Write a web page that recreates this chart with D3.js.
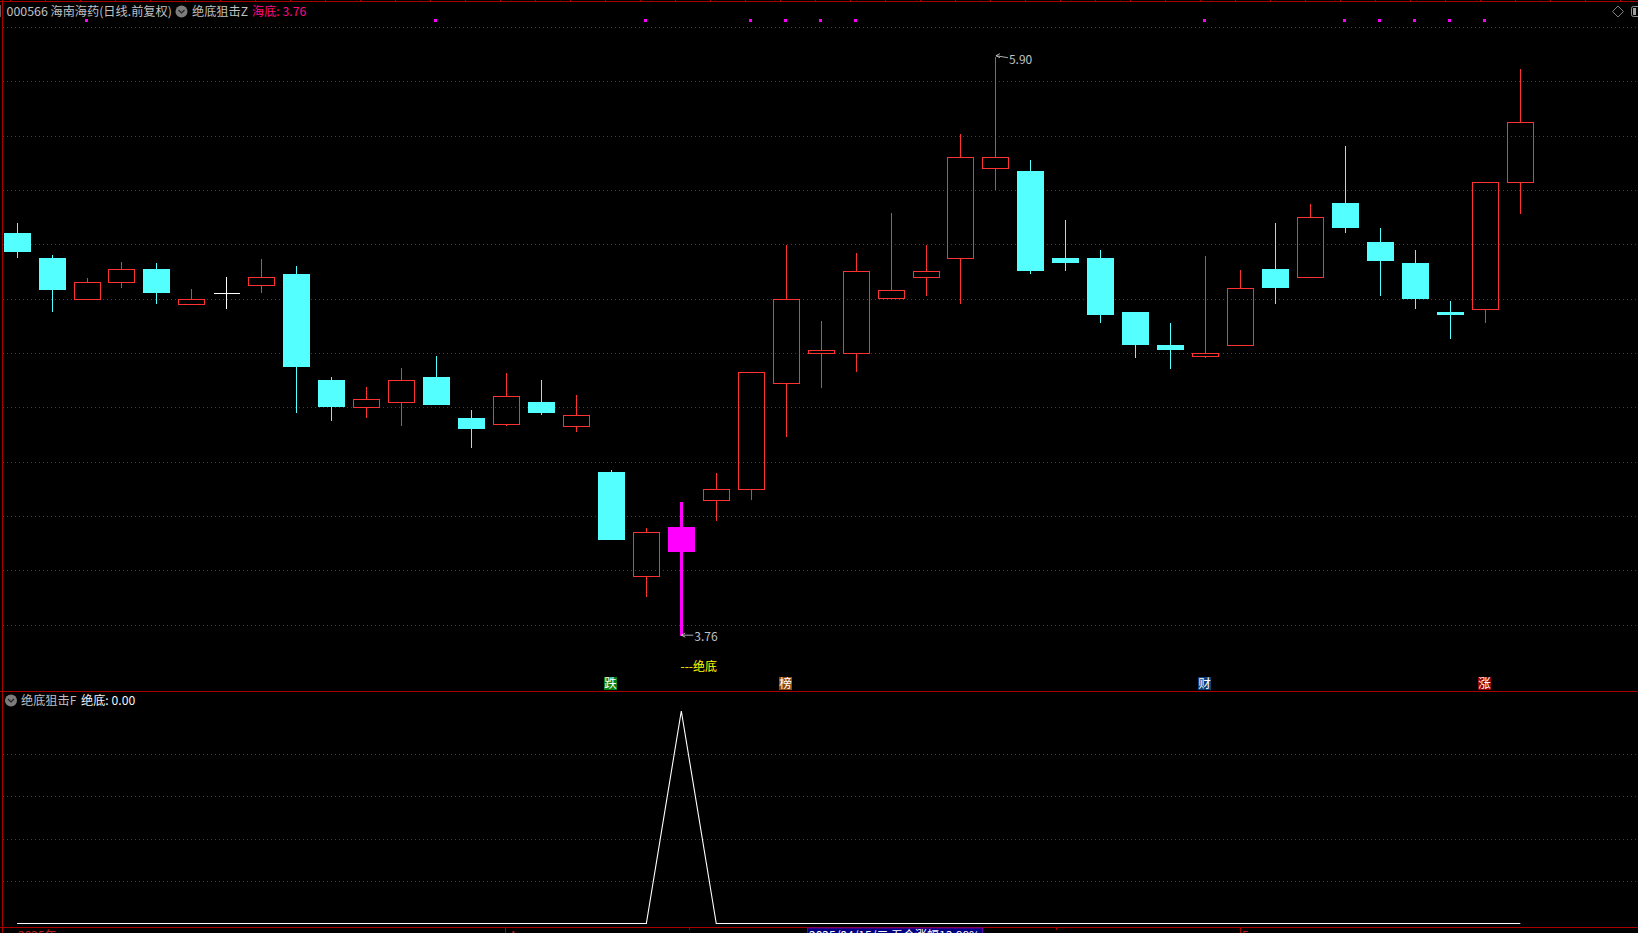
<!DOCTYPE html>
<html lang="zh">
<head>
<meta charset="utf-8">
<title>000566 海南海药</title>
<script src="https://cdn.jsdelivr.net/npm/d3@7/dist/d3.min.js"></script>
<style>
html,body{margin:0;padding:0;background:#000;overflow:hidden}
svg{display:block}
text{font-family:"Noto Sans CJK SC","Noto Sans",sans-serif}
</style>
</head>
<body>
<svg id="chart" width="1638" height="933"></svg>
<script>
// Price series
const opens  = [5.248,5.156,5.002,5.065,5.115,4.983,5.026,5.054,5.097,4.705,4.603,4.621,4.716,4.565,4.540,4.624,4.532,4.365,3.978,4.162,4.259,4.300,4.691,4.802,4.802,5.003,5.083,5.153,5.486,5.478,5.156,5.156,4.956,4.834,4.791,4.832,5.115,5.083,5.359,5.215,5.138,4.956,4.965,5.434];
const closes = [5.178,5.038,5.066,5.114,5.027,5.003,5.026,5.085,4.753,4.605,4.634,4.704,4.613,4.524,4.645,4.583,4.575,4.114,4.142,4.069,4.301,4.733,5.003,4.815,5.107,5.037,5.107,5.528,5.528,5.108,5.138,4.945,4.834,4.816,4.804,5.044,5.045,5.306,5.267,5.145,5.004,4.945,5.436,5.658];
const highs  = [5.285,5.167,5.082,5.141,5.138,5.041,5.086,5.152,5.126,4.716,4.679,4.749,4.794,4.594,4.731,4.705,4.650,4.372,4.158,4.254,4.361,4.733,5.204,4.923,5.174,5.322,5.204,5.614,5.900,5.518,5.296,5.186,4.956,4.916,5.163,5.112,5.285,5.356,5.570,5.267,5.186,4.997,5.436,5.855];
const lows   = [5.157,4.958,5.002,5.045,4.986,4.983,4.968,5.027,4.583,4.554,4.565,4.535,4.613,4.454,4.535,4.576,4.513,4.114,3.903,3.760,4.184,4.262,4.494,4.675,4.735,5.037,5.015,4.986,5.407,5.097,5.108,4.916,4.786,4.746,4.786,4.832,4.986,5.083,5.248,5.015,4.968,4.857,4.916,5.319];
const signalValues = [0,0,0,0,0,0,0,0,0,0,0,0,0,0,0,0,0,0,0,1,0,0,0,0,0,0,0,0,0,0,0,0,0,0,0,0,0,0,0,0,0,0,0,0];
const priceGrid  = [6.010,5.810,5.606,5.408,5.207,5.003,4.805,4.604,4.402,4.202,4.002,3.800];
const signalGrid = [0.8,0.6,0.4,0.2];
const markedBars = [2,12,18,21,22,23,24,34,38,39,40,41,42];
const signalBar = 19;
const tags = [
  {bar:17,label:"跌",color:"#08800f"},
  {bar:22,label:"榜",color:"#8a4a14"},
  {bar:34,label:"财",color:"#0f3f78"},
  {bar:42,label:"涨",color:"#8c0505"}
];

const GRID="#d00000", BORDER="#a80000", RED="#ff3232", CYAN="#54ffff", MAG="#ff00ff", GREY="#c0c0c0";
const svg=d3.select("#chart");
svg.append("rect").attr("width",1638).attr("height",933).attr("fill","#000");

const x=d3.scaleLinear().domain([0,43]).range([17.1,1520.3]);
const y=d3.scaleLinear().domain([3.76,5.90]).range([635.7,56.7]);
const y2=d3.scaleLinear().domain([0,1]).range([923.5,711]);
const px=v=>Math.floor(x(v))+0.5;
const ry=v=>Math.round(y(v));

// grids
function grid(vals,scale){
  svg.append("g").selectAll("line").data(vals).join("line")
    .attr("x1",3).attr("x2",1638)
    .attr("y1",d=>Math.round(scale(d))+0.5).attr("y2",d=>Math.round(scale(d))+0.5)
    .attr("stroke",GRID).attr("stroke-dasharray","1,3").attr("shape-rendering","crispEdges");
}
grid(priceGrid,y);grid(signalGrid,y2);

// frame
const frame=svg.append("g").attr("stroke",BORDER).attr("shape-rendering","crispEdges");
frame.append("line").attr("x1",0).attr("x2",1638).attr("y1",1.5).attr("y2",1.5);
frame.append("line").attr("x1",0).attr("x2",1638).attr("y1",691.5).attr("y2",691.5);
frame.append("line").attr("x1",0).attr("x2",1638).attr("y1",927.5).attr("y2",927.5);
frame.append("line").attr("x1",2.5).attr("x2",2.5).attr("y1",0).attr("y2",933);
frame.selectAll(".tk").data(d3.range(10,1638,35)).join("line").attr("class","tk")
  .attr("x1",d=>d+.5).attr("x2",d=>d+.5).attr("y1",0).attr("y2",1);
frame.selectAll(".bt").data([689,1056]).join("line").attr("class","bt")
  .attr("x1",d=>d+.5).attr("x2",d=>d+.5).attr("y1",928).attr("y2",930);
frame.selectAll(".bl").data([505,1240]).join("line").attr("class","bl")
  .attr("x1",d=>d+.5).attr("x2",d=>d+.5).attr("y1",928).attr("y2",933);

// candles
const bars=d3.range(opens.length).map(i=>({i,o:opens[i],c:closes[i],h:highs[i],l:lows[i]}));
const colorOf=d=>d.i===signalBar?MAG:d.c>d.o?RED:d.c<d.o?CYAN:"#fff";
const g=svg.append("g").attr("shape-rendering","crispEdges");
const cand=g.selectAll("g").data(bars).join("g");
cand.each(function(d){
  const s=d3.select(this),col=colorOf(d),c=px(d.i);
  const top=ry(Math.max(d.o,d.c)),bot=ry(Math.min(d.o,d.c));
  const w=d.i===signalBar?3:1;
  if(ry(d.h)<top) s.append("line").attr("x1",c).attr("x2",c).attr("y1",ry(d.h)).attr("y2",top).attr("stroke",col).attr("stroke-width",w);
  if(ry(d.l)>bot) s.append("line").attr("x1",c).attr("x2",c).attr("y1",bot).attr("y2",ry(d.l)).attr("stroke",col).attr("stroke-width",w);
  if(d.c>d.o&&d.i!==signalBar){
    s.append("rect").attr("x",c-13).attr("width",26).attr("y",top+.5).attr("height",bot-top-1)
      .attr("fill","none").attr("stroke",col);
  }else if(d.c===d.o){
    s.append("line").attr("x1",c-13).attr("x2",c+13.5).attr("y1",top+.5).attr("y2",top+.5).attr("stroke",col);
  }else{
    s.append("rect").attr("x",c-13.5).attr("width",27).attr("y",top).attr("height",bot-top).attr("fill",col);
  }
});

// top markers
svg.append("g").selectAll("rect").data(markedBars).join("rect")
  .attr("x",d=>Math.floor(x(d))-2).attr("y",19).attr("width",3).attr("height",3).attr("fill",MAG);

// signal line
const line=d3.line().x((d,i)=>x(i)).y(d=>y2(d));
svg.append("path").datum(signalValues).attr("d",line).attr("fill","none").attr("stroke","#fff").attr("stroke-width",1.1);

// text helper
function txt(xp,yp,s,col,size,anchor){
  return svg.append("text").attr("x",xp).attr("y",yp).attr("fill",col).attr("font-size",size||12)
    .attr("text-anchor",anchor||"start").text(s);
}
function chevron(cx,cy){
  svg.append("circle").attr("cx",cx).attr("cy",cy).attr("r",6).attr("fill","#7c7c7c");
  svg.append("path").attr("d",`M${cx-3},${cy-1.5}L${cx},${cy+1.5}L${cx+3},${cy-1.5}`).attr("fill","none").attr("stroke","#222").attr("stroke-width",1.2);
}
txt(6.5,15.5,"000566",GREY,12.4);
txt(50.5,15.5,"海南海药(日线.前复权)",GREY,12.2);
chevron(181.5,11.5);
txt(192,15.5,"绝底狙击Z",GREY,12.2);
txt(252,15.5,"海底: 3.76","#ff0a84",12.2);
chevron(11,700.5);
txt(21,704.5,"绝底狙击F",GREY,12.2);
txt(81,704.5,"绝底: 0.00","#f4f4f4",12.2);

// extreme labels
const ext=(bar,val,dy,label,ly)=>{
  const ax=x(bar),ay=y(val)+dy;
  svg.append("path").attr("d",`M${ax},${ay}L${ax+12},${ay+(dy<-.7?2:0)}M${ax},${ay}l4,-2M${ax},${ay}l4,2`).attr("fill","none").attr("stroke",GREY).attr("stroke-width",.9);
  txt(ax+13,ly,label,GREY,12);
};
ext(19,3.76,-0.5,"3.76",640.5);
ext(28,5.90,-1,"5.90",64);
txt(x(signalBar)-0.8,670.5,"---绝底","#ffff00",12);

// tags
const tg=svg.append("g").selectAll("g").data(tags).join("g");
tg.append("rect").attr("x",d=>Math.floor(x(d.bar))-7).attr("y",677).attr("width",13).attr("height",13).attr("fill",d=>d.color);
tg.append("text").attr("x",d=>Math.floor(x(d.bar))-0.5).attr("y",688).attr("text-anchor","middle")
  .attr("fill","#fff").attr("font-size",12.5).text(d=>d.label);

// bottom strip, cut by the window edge
txt(18,940,"2025年","#c02020",12);
txt(509,940,"4","#c02020",12);
txt(1242,940,"5","#c02020",12);
svg.append("rect").attr("x",807.5).attr("y",928).attr("width",175).attr("height",8).attr("fill","#000080").attr("stroke","#6000a0");
txt(809,940,"2025/04/15/二 五个涨幅13.88%","#fff",12);

// top right icons
svg.append("path").attr("d","M1618,6L1623.5,11.5L1618,17L1612.5,11.5Z").attr("fill","none").attr("stroke","#808080");
svg.append("rect").attr("x",1631.5).attr("y",6.5).attr("width",9).attr("height",10).attr("rx",2).attr("fill","none").attr("stroke","#909090");
svg.append("rect").attr("x",1633).attr("y",8).attr("width",3).attr("height",7).attr("fill","#a0a0a0");
svg.append("rect").attr("x",0).attr("y",5).attr("width",1).attr("height",12).attr("fill","#606060");
</script>
</body>
</html>
